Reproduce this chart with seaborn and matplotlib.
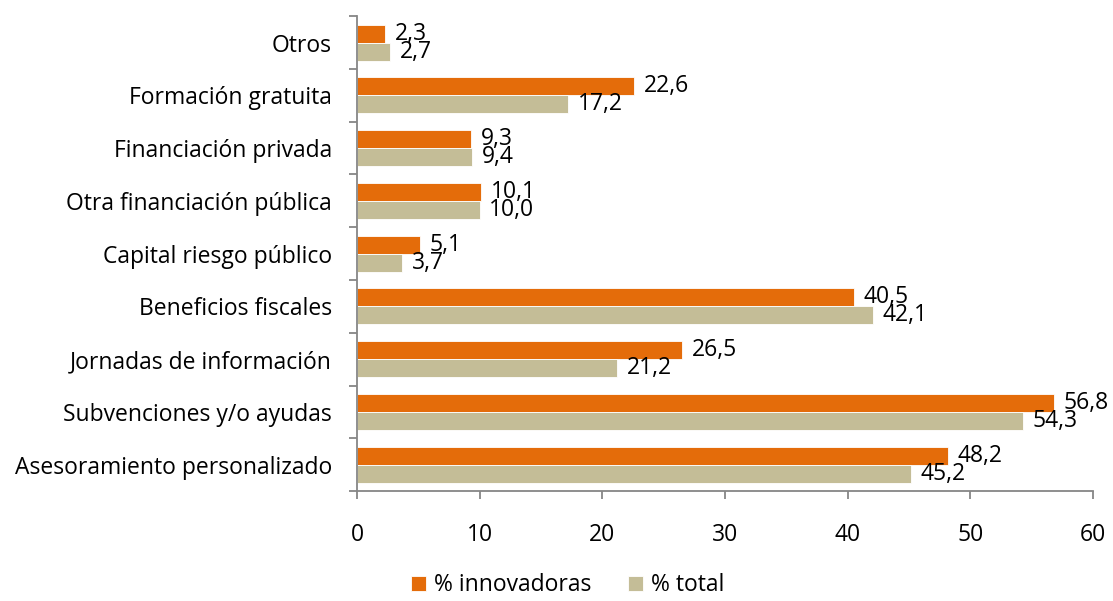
import numpy as np
import pandas as pd
import seaborn as sns
import matplotlib.pyplot as plt

categories = ["Otros", "Formación gratuita", "Financiación privada",
              "Otra financiación pública", "Capital riesgo público",
              "Beneficios fiscales", "Jornadas de información",
              "Subvenciones y/o ayudas", "Asesoramiento personalizado"]
innovadoras = [2.3, 22.6, 9.3, 10.1, 5.1, 40.5, 26.5, 56.8, 48.2]
total = [2.7, 17.2, 9.4, 10.0, 3.7, 42.1, 21.2, 54.3, 45.2]
series = ["% innovadoras", "% total"]
colors = ["#E46C0A", "#C4BD97"]

df = pd.DataFrame({
    "cat": categories * 2,
    "serie": [series[0]] * len(categories) + [series[1]] * len(categories),
    "valor": innovadoras + total,
})

sns.set_style("white")
plt.rcParams['font.family'] = ['Open Sans', 'DejaVu Sans']
plt.rcParams['text.color'] = 'black'
plt.rcParams['xtick.color'] = 'black'
plt.rcParams['ytick.color'] = 'black'
fs = 16.5

fig = plt.figure(figsize=(11.13, 6.01), dpi=100)
ax = fig.add_axes([0.3208, 0.183, 0.661, 0.79])

sns.barplot(data=df, y="cat", x="valor", hue="serie", order=categories,
            hue_order=series, palette=colors, saturation=1, orient="h",
            width=0.68, edgecolor="white", linewidth=0.6, ax=ax)

# etiquetas de datos con coma decimal
for cont in ax.containers:
    labels = [f"{v:.1f}".replace(".", ",") for v in cont.datavalues]
    ax.bar_label(cont, labels=labels, padding=7, fontsize=16.5, color="black")

ax.set_xlim(0, 60)
ax.set_xticks(range(0, 61, 10))
ax.set_ylim(len(categories) - 0.5, -0.5)
ax.set_xlabel("")
ax.set_ylabel("")
ax.tick_params(axis="y", which="major", length=0, pad=18, labelsize=fs)
ax.tick_params(axis="x", bottom=True, length=6, width=1.3, color="#868686",
               pad=17, labelsize=fs)
ax.set_yticks(np.arange(-0.5, len(categories), 1), minor=True)
ax.tick_params(axis="y", which="minor", left=True, length=6,
               color="#868686", width=1.3)

for s in ["top", "right"]:
    ax.spines[s].set_visible(False)
for s in ["left", "bottom"]:
    ax.spines[s].set_color("#868686")
    ax.spines[s].set_linewidth(1.3)

ax.legend(loc="upper center", bbox_to_anchor=(0.286, -0.13), ncol=2,
          frameon=False, fontsize=fs, handlelength=0.65, handleheight=0.65,
          handletextpad=0.35, columnspacing=1.6)

fig.savefig("out.png", dpi=100)
